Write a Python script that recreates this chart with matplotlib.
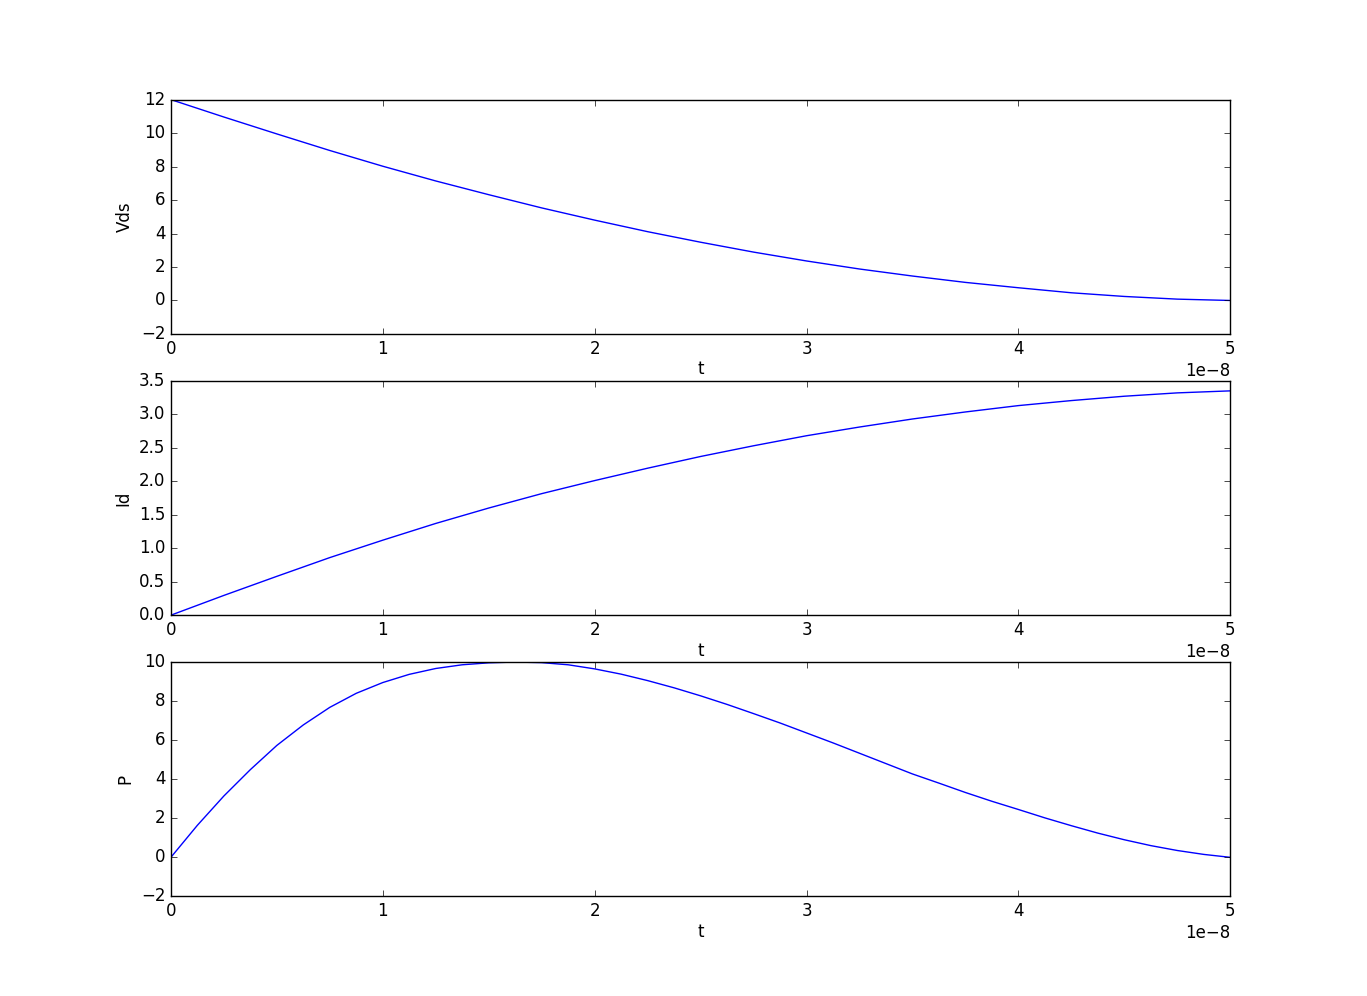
import matplotlib
matplotlib.use("Agg")
import matplotlib.pyplot as plt
import numpy as np

plt.style.use('classic')

# time in units of 1e-8 s
t_vi = [0.0, 0.25, 0.5, 0.75, 1.0, 1.25, 1.5, 1.75, 2.0, 2.25, 2.5,
        2.75, 3.0, 3.25, 3.5, 3.75, 4.0, 4.25, 4.5, 4.75, 5.0]
vds = [12.0, 10.96, 9.95, 8.96, 8.02, 7.14, 6.32, 5.53, 4.8, 4.11, 3.48,
       2.89, 2.36, 1.88, 1.46, 1.08, 0.76, 0.46, 0.24, 0.08, 0.0]
i_d = [0.0, 0.295, 0.58, 0.86, 1.12, 1.37, 1.6, 1.815, 2.01, 2.195, 2.37,
       2.53, 2.68, 2.81, 2.93, 3.035, 3.13, 3.205, 3.27, 3.32, 3.35]

t_p = [0.0, 0.125, 0.25, 0.375, 0.5, 0.625, 0.75, 0.875, 1.0, 1.125,
       1.25, 1.375, 1.5, 1.625, 1.75, 1.875, 2.0, 2.125, 2.25, 2.375,
       2.5, 2.625, 2.75, 2.875, 3.0, 3.125, 3.25, 3.375, 3.5, 3.625,
       3.75, 3.875, 4.0, 4.125, 4.25, 4.375, 4.5, 4.625, 4.75, 4.875, 5.0]
power = [0.0, 1.64, 3.14, 4.49, 5.73, 6.78, 7.68, 8.4, 8.95, 9.37,
         9.67, 9.86, 9.96, 10.0, 9.97, 9.86, 9.65, 9.38, 9.05, 8.68,
         8.27, 7.83, 7.36, 6.88, 6.37, 5.86, 5.33, 4.8, 4.27, 3.8,
         3.32, 2.87, 2.45, 2.02, 1.62, 1.24, 0.9, 0.6, 0.35, 0.15, 0.0]

ylabels = ["Vds", "Id", "P"]
ylims = [(-2, 12), (0, 3.5), (-2, 10)]
times = [t_vi, t_vi, t_p]
series_all = [vds, i_d, power]

fig = plt.figure(figsize=(13.67, 9.96), dpi=100)
for k in range(3):
    ax = fig.add_subplot(3, 1, k + 1)
    ax.plot(np.array(times[k]) * 1e-8, series_all[k], color='b', linewidth=1)
    ax.set_xlim(0, 5e-8)
    ax.set_ylim(*ylims[k])
    ax.set_xlabel("t", labelpad=2)
    ax.set_ylabel(ylabels[k])

fig.savefig("out.png", dpi=100)
